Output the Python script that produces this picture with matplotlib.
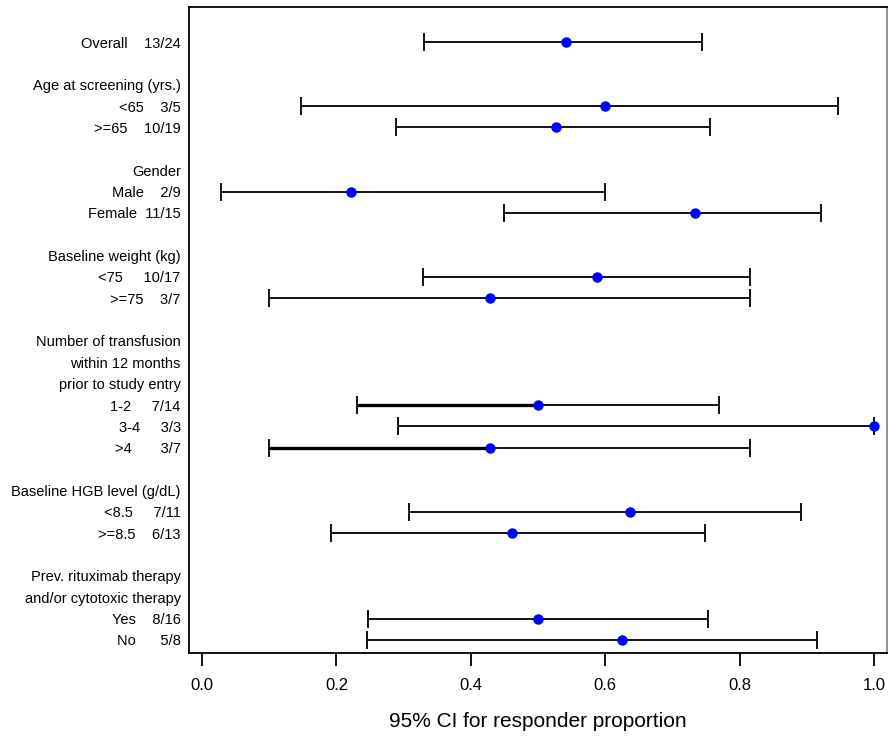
import matplotlib
matplotlib.use("Agg")
import matplotlib.pyplot as plt
from matplotlib import font_manager

# Row layout, top to bottom (headers have no estimate)
row_labels = [
    "Overall    13/24", "",
    "Age at screening (yrs.)", "<65    3/5", ">=65    10/19", "",
    "Gender", "Male    2/9", "Female  11/15", "",
    "Baseline weight (kg)", "<75     10/17", ">=75    3/7", "",
    "Number of transfusion", "within 12 months", "prior to study entry",
    "1-2     7/14", "3-4     3/3", ">4       3/7", "",
    "Baseline HGB level (g/dL)", "<8.5     7/11", ">=8.5    6/13", "",
    "Prev. rituximab therapy", "and/or cytotoxic therapy", "Yes    8/16", "No      5/8",
]

# Rows carrying an estimate, with responders / totals and exact 95% CI bounds
data_rows = [0, 3, 4, 7, 8, 11, 12, 17, 18, 19, 22, 23, 27, 28]
responders = [13, 3, 10, 2, 11, 10, 3, 7, 3, 3, 7, 6, 8, 5]
totals = [24, 5, 19, 9, 15, 17, 7, 14, 3, 7, 11, 13, 16, 8]
ci_lower = [0.330, 0.147, 0.289, 0.028, 0.449, 0.329, 0.099, 0.230, 0.292, 0.099, 0.308, 0.192, 0.247, 0.245]
ci_upper = [0.744, 0.947, 0.756, 0.600, 0.922, 0.816, 0.816, 0.770, 1.000, 0.816, 0.891, 0.749, 0.753, 0.915]
# rows whose lower-to-estimate segment is drawn heavier
heavy_rows = [17, 19]

x_ticks = [0.0, 0.2, 0.4, 0.6, 0.8, 1.0]
x_label = "95% CI for responder proportion"

installed = {f.name for f in font_manager.fontManager.ttflist}
narrow = "Liberation Sans Narrow" if "Liberation Sans Narrow" in installed else "Liberation Sans"
plt.rcParams["font.family"] = [narrow, "DejaVu Sans"]

fig = plt.figure(figsize=(8.88, 7.38), dpi=100)
ax = fig.add_axes([189 / 888, 1 - 653 / 738, (887 - 189) / 888, (653 - 7) / 738])

estimates = [r / n for r, n in zip(responders, totals)]
for y, est, lo, hi in zip(data_rows, estimates, ci_lower, ci_upper):
    ax.plot([lo, hi], [y, y], color="black", lw=1.3, solid_capstyle="butt", zorder=2)
    ax.plot([lo, hi], [y, y], ls="none", marker="|", markersize=13, mew=1.3,
            color="black", zorder=2)
    if y in heavy_rows:
        ax.plot([lo, est], [y, y], color="black", lw=2.4, solid_capstyle="butt", zorder=2)
ax.plot(estimates, data_rows, ls="none", marker="o", markersize=6.5,
        color="#0000ff", markeredgecolor="#0000ff", zorder=3)

ax.set_xlim(-0.0195, 1.0195)
ax.set_ylim(28.61, -1.64)

ax.set_yticks(range(len(row_labels)))
ax.set_yticklabels(row_labels, fontsize=10.5)
ax.tick_params(axis="y", length=0, pad=6)

ax.set_xticks(x_ticks)
ax.set_xticklabels([f"{t:.1f}" for t in x_ticks], fontsize=12)
ax.tick_params(axis="x", direction="out", length=9, width=1.3, pad=9)
ax.set_xlabel(x_label, fontsize=15, labelpad=14)

for side, sp in ax.spines.items():
    sp.set_linewidth(1.3)
    sp.set_color("black")
ax.spines["right"].set_color("#888888")

fig.savefig("out.png", dpi=100)
